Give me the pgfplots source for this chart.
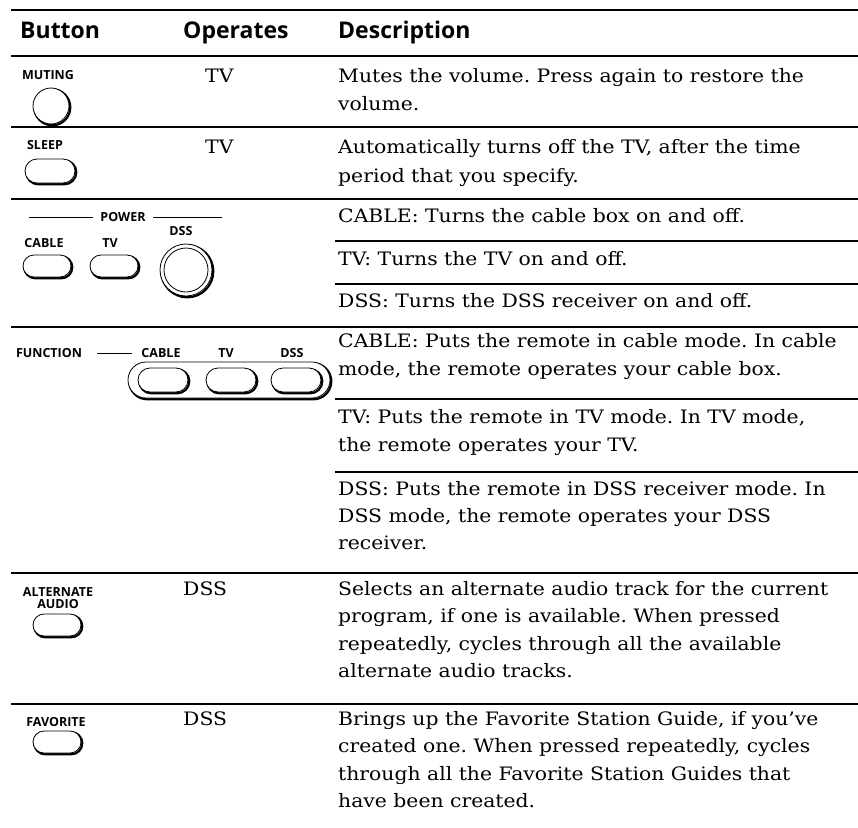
\documentclass[border=0pt]{standalone}
\usepackage{fontspec}
\setmainfont{DejaVu Serif}[FakeStretch=1.10]
\newfontfamily\hdrfont{Open Sans}
\usepackage{pgfplots}
\pgfplotsset{compat=1.18}
\frenchspacing
\newcommand\body{\fontsize{18.5}{22}\selectfont}
\newcommand\hdr{\hdrfont\bfseries\fontsize{23}{26}\selectfont}
\newcommand\lbl{\hdrfont\bfseries\fontsize{12.5}{13}\selectfont}
\newcommand\tl[3]{\node[anchor=base west,inner sep=0pt,font=\body] at (axis cs:#1,#2) {#3};}
\newcommand\lb[3]{\node[anchor=center,inner sep=0pt,font=\lbl] at (axis cs:#1,#2) {#3};}
% pill: cx, cy, half-width, half-height
\newcommand\pill[4]{%
  \draw[line width=2.2pt,rounded corners=#4pt] (axis cs:#1-#3+1.3,#2-#4+1.3) rectangle (axis cs:#1+#3+1.3,#2+#4+1.3);
  \draw[line width=0.8pt,fill=white,rounded corners=#4pt] (axis cs:#1-#3,#2-#4) rectangle (axis cs:#1+#3,#2+#4);}
\begin{document}
\begin{tikzpicture}
\begin{axis}[scale only axis, width=858pt, height=827pt,
  xmin=0, xmax=858, ymin=0, ymax=827, y dir=reverse,
  hide axis, clip=false]
% full rules
\addplot[black,line width=2pt] coordinates {(11,10) (858,10)};
\addplot[black,line width=2pt] coordinates {(11,56) (858,56)};
\addplot[black,line width=2pt] coordinates {(11,127) (858,127)};
\addplot[black,line width=2pt] coordinates {(11,199) (858,199)};
\addplot[black,line width=2pt] coordinates {(11,327) (858,327)};
\addplot[black,line width=2pt] coordinates {(11,573) (858,573)};
\addplot[black,line width=2pt] coordinates {(11,704) (858,704)};
% partial rules
\addplot[black,line width=2pt] coordinates {(335,241) (858,241)};
\addplot[black,line width=2pt] coordinates {(335,284) (858,284)};
\addplot[black,line width=2pt] coordinates {(335,399) (858,399)};
\addplot[black,line width=2pt] coordinates {(335,472) (858,472)};
% headers
\node[anchor=base west,inner sep=0pt,font=\hdr] at (axis cs:20,38) {Button};
\node[anchor=base west,inner sep=0pt,font=\hdr] at (axis cs:183,38) {Operates};
\node[anchor=base west,inner sep=0pt,font=\hdr] at (axis cs:338,38) {Description};
% operates
\tl{205}{82}{TV}
\tl{205}{153}{TV}
\tl{183}{595}{DSS}
\tl{183}{725}{DSS}
% descriptions
\tl{338}{82}{Mutes the volume. Press again to restore the}
\tl{338}{110}{volume.}
\tl{338}{153}{Automatically turns off the TV, after the time}
\tl{338}{182}{period that you specify.}
\tl{338}{222}{CABLE: Turns the cable box on and off.}
\tl{338}{265}{TV: Turns the TV on and off.}
\tl{338}{307}{DSS: Turns the DSS receiver on and off.}
\tl{338}{347}{CABLE: Puts the remote in cable mode. In cable}
\tl{338}{375}{mode, the remote operates your cable box.}
\tl{338}{423}{TV: Puts the remote in TV mode. In TV mode,}
\tl{338}{451}{the remote operates your TV.}
\tl{338}{495}{DSS: Puts the remote in DSS receiver mode. In}
\tl{338}{522}{DSS mode, the remote operates your DSS}
\tl{338}{549}{receiver.}
\tl{338}{595}{Selects an alternate audio track for the current}
\tl{338}{622}{program, if one is available. When pressed}
\tl{338}{650}{repeatedly, cycles through all the available}
\tl{338}{677}{alternate audio tracks.}
\tl{338}{725}{Brings up the Favorite Station Guide, if you’ve}
\tl{338}{752}{created one. When pressed repeatedly, cycles}
\tl{338}{780}{through all the Favorite Station Guides that}
\tl{338}{807}{have been created.}
% MUTING
\lb{48}{75}{MUTING}
\draw[line width=2.2pt] (axis cs:52.3,107.3) circle[radius=18pt];
\draw[line width=0.8pt,fill=white] (axis cs:51,106) circle[radius=18pt];
% SLEEP
\lb{45}{145}{SLEEP}
\pill{50}{171}{25}{12}
% POWER
\draw[line width=0.8pt] (axis cs:29,217) -- (axis cs:93,217);
\draw[line width=0.8pt] (axis cs:153,217) -- (axis cs:222,217);
\lb{123}{217}{POWER}
\lb{181}{231}{DSS}
\lb{44}{243}{CABLE}
\lb{110}{243}{TV}
\pill{47}{266}{24}{11}
\pill{114}{266}{24}{11}
\draw[line width=2.2pt] (axis cs:187.3,271.3) circle[radius=26pt];
\draw[line width=0.8pt,fill=white] (axis cs:186,270) circle[radius=26pt];
\draw[line width=0.8pt] (axis cs:186,270) circle[radius=22pt];
% FUNCTION
\lb{49}{353}{FUNCTION}
\draw[line width=0.8pt] (axis cs:97,353) -- (axis cs:132,353);
\lb{161}{353}{CABLE}
\lb{226}{353}{TV}
\lb{292}{353}{DSS}
\draw[line width=2.2pt,rounded corners=18pt] (axis cs:129.3,363.3) rectangle (axis cs:331.3,399.3);
\draw[line width=0.8pt,fill=white,rounded corners=18pt] (axis cs:128,362) rectangle (axis cs:330,398);
\pill{163}{380}{25}{12}
\pill{231}{380}{25}{12}
\pill{296}{380}{25}{12}
% ALTERNATE AUDIO
\lb{58}{592}{ALTERNATE}
\lb{58}{604}{AUDIO}
\pill{57}{625}{24}{11}
% FAVORITE
\lb{56}{722}{FAVORITE}
\pill{57}{742}{24}{11}
\end{axis}
\pgfresetboundingbox
\path (current axis.south west) rectangle (current axis.north east);
\end{tikzpicture}
\end{document}
